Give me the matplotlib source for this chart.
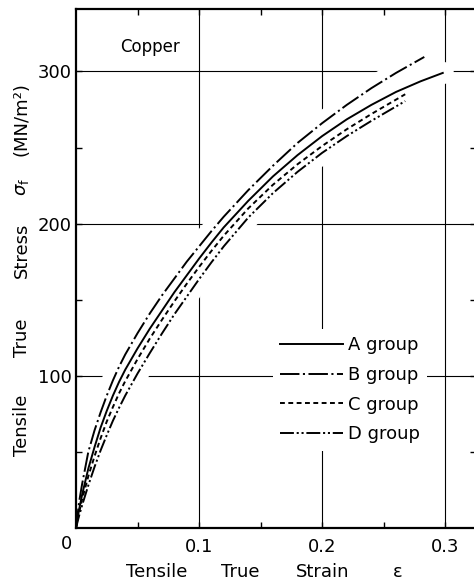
import numpy as np
import matplotlib
matplotlib.use("Agg")
import matplotlib.pyplot as plt

plt.rcParams['font.family'] = ['DejaVu Sans']
plt.rcParams['lines.scale_dashes'] = False

# strain vs true stress (MN/m^2)
strain_A = [0, 0.0025, 0.005, 0.01, 0.015, 0.02, 0.025, 0.03, 0.035, 0.04, 0.05, 0.06, 0.07,
            0.08, 0.09, 0.10, 0.11, 0.12, 0.14, 0.16, 0.18, 0.20, 0.22, 0.24, 0.26, 0.28, 0.298]
stress_A = [0, 12, 22, 39, 53, 66, 77, 87, 96, 104, 118, 131, 143,
            155, 166, 177, 187.5, 197.5, 215, 231, 245, 257.5, 268.5, 278, 286.5, 293.5, 299]

strain_B = [0, 0.0025, 0.005, 0.01, 0.015, 0.02, 0.025, 0.03, 0.035, 0.04, 0.05, 0.06, 0.07,
            0.08, 0.09, 0.10, 0.11, 0.12, 0.14, 0.16, 0.18, 0.20, 0.22, 0.24, 0.26, 0.283]
stress_B = [0, 17, 29, 50, 64, 76, 87, 97, 106, 114, 128, 141, 153,
            164, 175, 185, 195, 204.5, 222, 238, 253, 266, 278, 289, 299, 309.5]

strain_C = [0, 0.0025, 0.005, 0.01, 0.015, 0.02, 0.025, 0.03, 0.035, 0.04, 0.05, 0.06, 0.07,
            0.08, 0.09, 0.10, 0.11, 0.12, 0.14, 0.16, 0.18, 0.20, 0.22, 0.24, 0.2675]
stress_C = [0, 10, 19, 34, 47, 59, 70, 79.5, 88.5, 96.5, 111, 124.5, 137,
            149, 160.5, 171.5, 182, 192, 210, 225.5, 239, 251, 262, 272, 285]

strain_D = [0, 0.0025, 0.005, 0.01, 0.015, 0.02, 0.025, 0.03, 0.035, 0.04, 0.05, 0.06, 0.07,
            0.08, 0.09, 0.10, 0.11, 0.12, 0.14, 0.16, 0.18, 0.20, 0.22, 0.24, 0.2675]
stress_D = [0, 8, 15, 28, 40, 51, 61, 70.5, 79, 87, 101.5, 115, 128,
            140.5, 152, 163.5, 174.5, 185, 204, 220, 234, 246.5, 257.5, 267.5, 280.5]

groups = ["A group", "B group", "C group", "D group"]
x_major = [0.1, 0.2, 0.3]
x_labels = ["0.1", "0.2", "0.3"]
y_major = [100, 200, 300]
x_minor = [0.05, 0.15, 0.25]
y_minor = [50, 150, 250]

styles = ['-', (0, (14, 2.5, 1.5, 2.5)), (0, (3.5, 2.5)), (0, (10, 2, 1.5, 2, 1.5, 2))]
data = [(strain_A, stress_A), (strain_B, stress_B), (strain_C, stress_C), (strain_D, stress_D)]

fig = plt.figure(figsize=(4.74, 5.85), dpi=100)
ax = fig.add_axes([76/474, 57/585, 400/474, 519/585])
ax.set_xlim(0, 0.325)
ax.set_ylim(0, 341)

# grid, broken around the curves like the original drawing
for xv in x_major:
    ax.axvline(xv, color='k', lw=0.8, zorder=0.5)
for yv in y_major:
    ax.axhline(yv, color='k', lw=0.8, zorder=0.5)

for (x, y) in data:
    ax.plot(x, y, color='white', lw=16, solid_capstyle='round', zorder=1)
for (x, y), ls, lab in zip(data, styles, groups):
    ax.plot(x, y, color='k', lw=1.4, linestyle=ls, label=lab, zorder=3)

ax.set_axisbelow(False)
ax.set_xticks(x_major)
ax.set_xticklabels(x_labels)
ax.set_xticks(x_minor, minor=True)
ax.set_yticks(y_major)
ax.set_yticks(y_minor, minor=True)
ax.tick_params(which='both', direction='in', top=True, right=True,
               labelsize=13, length=4, width=1)
ax.tick_params(axis='x', pad=7)
ax.tick_params(axis='y', pad=3)
for s in ax.spines.values():
    s.set_linewidth(1.6)

ax.annotate("0", xy=(0, 0), xycoords='data', xytext=(-9, -16),
            textcoords='offset pixels', ha='center', va='center', fontsize=13)

ax.text(0.185, 0.927, "Copper", transform=ax.transAxes, fontsize=12,
        ha='center', va='center')

leg = ax.legend(loc='upper left', bbox_to_anchor=(264/474, 1 - 320/585),
                bbox_transform=fig.transFigure, fontsize=13, handlelength=3.5,
                handletextpad=0.25, labelspacing=0.65, borderpad=0.4,
                frameon=True, fancybox=False)
leg.get_frame().set_facecolor('white')
leg.get_frame().set_edgecolor('none')
leg.get_frame().set_alpha(1)
leg.set_zorder(4)

# axis titles, spaced out word by word
for word, xp in zip(["Tensile", "True", "Strain", "ε"], [157, 240, 323, 398]):
    fig.text(xp/474, 1 - 572/585, word, fontsize=13, ha='center', va='center')
for word, yp in zip(["Tensile", "True", "Stress", r"$\sigma_{\mathrm{f}}$", "(MN/m²)"],
                    [425, 338, 250, 187, 119]):
    fig.text(22/474, 1 - yp/585, word, fontsize=13, ha='center', va='center', rotation=90)

plt.savefig("out.png", dpi=100)
